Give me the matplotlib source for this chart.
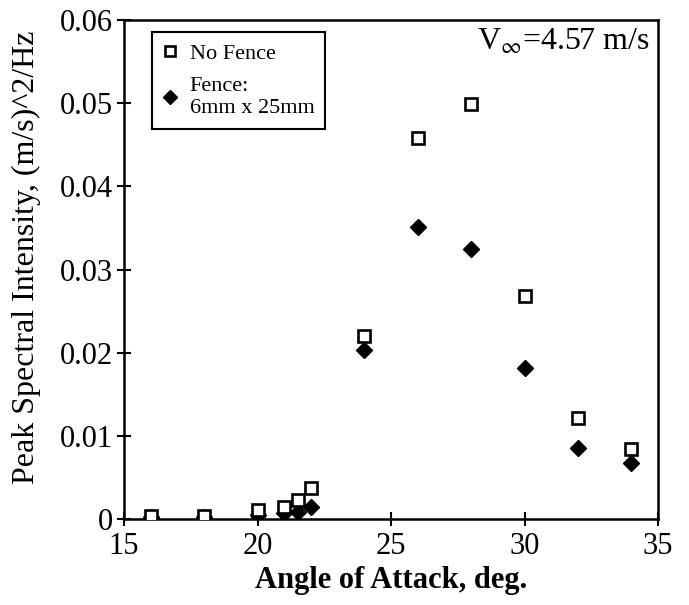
import matplotlib
matplotlib.use("Agg")
import matplotlib.pyplot as plt

angle = [16, 18, 20, 21, 21.5, 22, 24, 26, 28, 30, 32, 34]
no_fence = [0.0004, 0.0004, 0.0011, 0.0014, 0.0023, 0.0037, 0.0220, 0.0458, 0.0499, 0.0268, 0.0121, 0.0084]
fence = [0.0003, 0.0003, 0.0005, 0.0007, 0.0008, 0.0014, 0.0203, 0.0351, 0.0325, 0.0182, 0.0085, 0.0067]
xticks = [15, 20, 25, 30, 35]
yticks = [0, 0.01, 0.02, 0.03, 0.04, 0.05, 0.06]
ytick_labels = ["0", "0.01", "0.02", "0.03", "0.04", "0.05", "0.06"]

plt.rcParams['font.family'] = ['Liberation Serif', 'DejaVu Serif']
plt.rcParams['mathtext.fontset'] = 'stix'

fig = plt.figure(figsize=(6.89, 6.05), dpi=100)
ax = fig.add_axes([0.180, 0.142, 0.775, 0.825])

ax.plot(angle, fence, linestyle='none', marker='D', markersize=8.5,
        color='black', markerfacecolor='black', label='Fence:\n6mm x 25mm', zorder=3)
ax.plot(angle, no_fence, linestyle='none', marker='s', markersize=8,
        markerfacecolor='white', markeredgecolor='black', markeredgewidth=1.9,
        label='No Fence', zorder=4)

ax.set_xlim(15, 35)
ax.set_ylim(0, 0.06)
ax.set_xticks(xticks)
ax.set_yticks(yticks)
ax.set_yticklabels(ytick_labels)
ax.tick_params(direction='inout', length=10, width=1.5, labelsize=22)
ax.tick_params(axis='x', pad=4)
ax.tick_params(axis='y', pad=3)
for s in ax.spines.values():
    s.set_linewidth(1.8)

ax.set_xlabel('Angle of Attack, deg.', fontsize=22, fontweight='bold', labelpad=4)
ax.set_ylabel('Peak Spectral Intensity, (m/s)^2/Hz', fontsize=23, labelpad=2)
ax.yaxis.set_label_coords(-0.155, 0.525)

h, l = ax.get_legend_handles_labels()
leg = ax.legend([h[1], h[0]], [l[1], l[0]], loc='upper left',
                bbox_to_anchor=(0.052, 0.975), fontsize=16, frameon=True,
                fancybox=False, edgecolor='black', handlelength=0.6,
                handletextpad=0.6, borderpad=0.5, labelspacing=0.6,
                markerscale=0.85, borderaxespad=0.0)
leg.get_frame().set_linewidth(1.5)
leg.get_frame().set_alpha(1)

ax.text(0.985, 0.985, r'V$_{\infty}$=4.57 m/s', transform=ax.transAxes,
        ha='right', va='top', fontsize=23)

fig.savefig('out.png', dpi=100)
